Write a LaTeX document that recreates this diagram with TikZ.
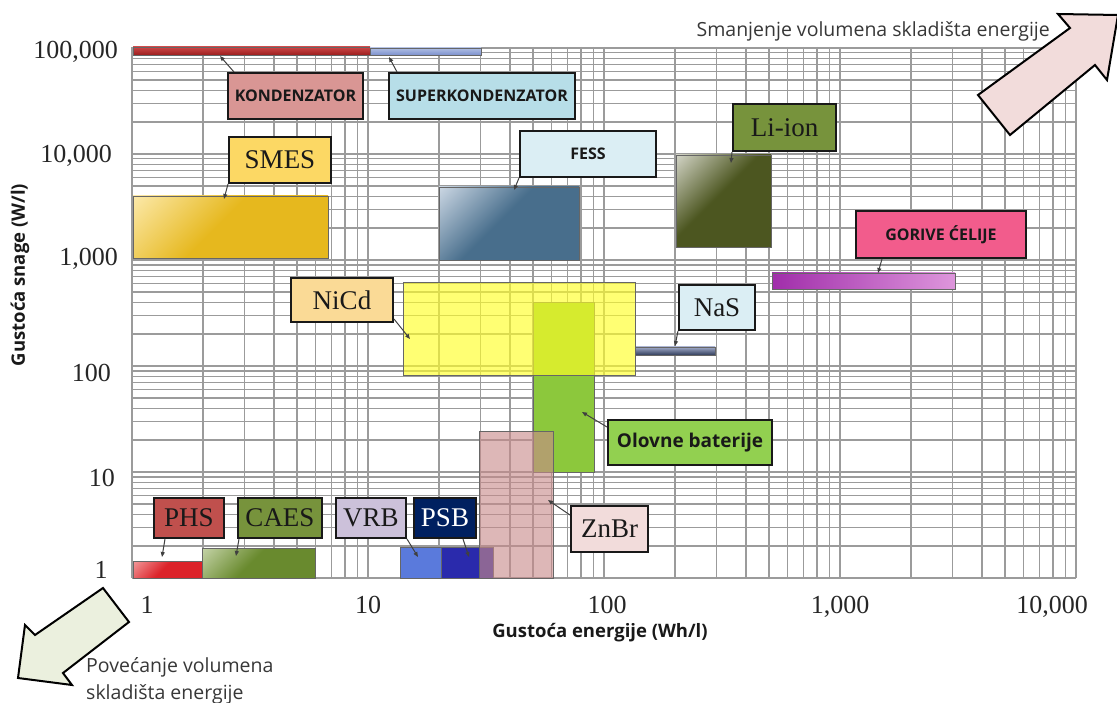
\documentclass[tikz,border=0pt]{standalone}
\usepackage{fontspec}
\setmainfont{Liberation Serif}
\newfontfamily\osans{Open Sans}
\usetikzlibrary{arrows.meta}
\definecolor{gridc}{RGB}{155,155,155}
\definecolor{cKond}{RGB}{217,150,148}
\definecolor{cSuper}{RGB}{183,222,232}
\definecolor{cSmes}{RGB}{252,216,100}
\definecolor{cFess}{RGB}{219,238,244}
\definecolor{cOlive}{RGB}{119,147,60}
\definecolor{cGor}{RGB}{242,92,140}
\definecolor{cNicd}{RGB}{250,218,150}
\definecolor{cLead}{RGB}{146,208,80}
\definecolor{cZn}{RGB}{242,220,219}
\definecolor{cPhs}{RGB}{192,80,77}
\definecolor{cVrb}{RGB}{204,193,218}
\definecolor{cPsb}{RGB}{0,32,96}
\definecolor{arrPink}{RGB}{242,220,219}
\definecolor{arrGreen}{RGB}{235,240,222}
\definecolor{txtgray}{RGB}{55,55,55}
% bar colours
\definecolor{kondT}{RGB}{205,70,70}
\definecolor{kondB}{RGB}{155,30,30}
\definecolor{supT}{RGB}{175,190,228}
\definecolor{supB}{RGB}{125,145,205}
\definecolor{smesL}{RGB}{255,240,190}
\definecolor{smesM}{RGB}{230,184,30}
\definecolor{fessL}{RGB}{222,230,240}
\definecolor{fessM}{RGB}{72,110,140}
\definecolor{liL}{RGB}{230,230,222}
\definecolor{liM}{RGB}{76,86,32}
\definecolor{gorL}{RGB}{160,45,170}
\definecolor{gorR}{RGB}{222,150,220}
\definecolor{nasT}{RGB}{160,170,200}
\definecolor{nasB}{RGB}{50,62,92}
\definecolor{leadM}{RGB}{140,200,60}
\definecolor{nicdM}{RGB}{255,255,40}
\definecolor{phsL}{RGB}{245,170,170}
\definecolor{phsM}{RGB}{220,35,42}
\definecolor{caesL}{RGB}{210,222,185}
\definecolor{caesM}{RGB}{105,138,46}
\definecolor{vrbM}{RGB}{90,122,220}
\definecolor{psbM}{RGB}{42,42,172}
\definecolor{znM}{RGB}{200,138,138}
\colorlet{hlA}{white}
\colorlet{hlB}{black}
\pgfdeclareverticalshading[hlA,hlB]{corner}{100bp}{color(0bp)=(hlB); color(54bp)=(hlB); color(90bp)=(hlA); color(100bp)=(hlA)}
\begin{document}
\begin{tikzpicture}[x=1pt,y=-1pt,
  gridline/.style={draw=gridc, line width=1.3pt},
  bar/.style={draw=black!60, line width=0.8pt},
  hl/.style 2 args={/utils/exec={\colorlet{hlA}{#1}\colorlet{hlB}{#2}}, shade, shading=corner, shading angle=45},
  lab/.style={draw=black!90, line width=2pt, inner sep=0pt, text=black!90},
  serlab/.style={lab, font=\fontsize{27}{27}\selectfont},
  sanlab/.style={lab, font=\osans\bfseries\fontsize{16}{16}\selectfont},
  tick/.style={inner sep=0pt, text depth=0pt, text=black!85, font=\fontsize{26}{26}\selectfont},
  conn/.style={draw=black!75, line width=1pt, -{Triangle[length=5pt,width=4pt]}},
  note/.style={inner sep=0pt, text=txtgray, font=\osans\fontsize{19.5}{20}\selectfont},
  axt/.style={inner sep=0pt, text=black!90, font=\osans\bfseries\fontsize{18.5}{19}\selectfont},
  blockarrow/.style={draw=black, line width=2pt, line join=miter}]
\useasboundingbox (0,0) rectangle (1117,703);
\clip (0,0) rectangle (1117,703);
% grid
\foreach \d in {0,...,3}{\foreach \k in {1,...,9}{
  \pgfmathsetmacro\xx{132+236*(\d+log10(\k))}
  \draw[gridline] (\xx,47) -- (\xx,578);}}
\draw[gridline] (1076,47) -- (1076,578);
\foreach \d in {0,...,4}{\foreach \k in {1,...,9}{
  \pgfmathsetmacro\yy{578-106*(\d+log10(\k))}
  \draw[gridline] (132,\yy) -- (1076,\yy);}}
\draw[gridline] (132,48) -- (1076,48);
% bars
\path[bar, top color=kondT, bottom color=kondB] (133,47) rectangle (370,55);
\path[bar, top color=supT, bottom color=supB] (370,48) rectangle (481,55);
\path[bar, hl={smesL}{smesM}] (133,196) rectangle (328,258);
\path[bar, hl={fessL}{fessM}] (439,187) rectangle (579,260);
\path[bar, hl={liL}{liM}] (676,155) rectangle (771,247);
\path[bar, left color=gorL, right color=gorR] (772,273) rectangle (955,289);
\path[bar, top color=nasT, bottom color=nasB] (635,347) rectangle (715,355);
\path[bar, fill=leadM] (533,302) rectangle (594,472);
\path[bar, fill=nicdM, fill opacity=0.65] (403,282) rectangle (635,375);
\path[bar, hl={phsL}{phsM}] (133,561) rectangle (202,578);
\path[bar, hl={caesL}{caesM}] (202,548) rectangle (315,578);
\path[bar, fill=vrbM] (400,547) rectangle (441,578);
\path[bar, fill=psbM] (441,547) rectangle (493,578);
\path[bar, fill=znM, fill opacity=0.62] (479,431) rectangle (553,578);
% labels
\node[sanlab, fill=cKond, minimum width=135pt, minimum height=46pt] (kond) at (295.5,96) {KONDENZATOR};
\node[sanlab, fill=cSuper, minimum width=186pt, minimum height=46pt] (super) at (482,96) {SUPERKONDENZATOR};
\node[serlab, fill=cSmes, minimum width=102pt, minimum height=46pt] (smes) at (280,160) {SMES};
\node[sanlab, fill=cFess, minimum width=136pt, minimum height=46pt] (fess) at (588,154) {FESS};
\node[serlab, fill=cOlive, minimum width=103pt, minimum height=47pt] (li) at (784.5,127.5) {Li-ion};
\node[sanlab, fill=cGor, minimum width=170pt, minimum height=47pt] (gor) at (941,234.5) {GORIVE ĆELIJE};
\node[serlab, fill=cNicd, minimum width=102pt, minimum height=44pt] (nicd) at (342,300) {NiCd};
\node[serlab, fill=cFess, minimum width=76pt, minimum height=45pt] (nas) at (717,307.5) {NaS};
\node[lab, fill=cLead, minimum width=164pt, minimum height=45pt, font=\osans\bfseries\fontsize{19}{19}\selectfont] (lead) at (690,442.5) {Olovne baterije};
\node[serlab, fill=cZn, minimum width=77pt, minimum height=46pt] (zn) at (609.5,529) {ZnBr};
\node[serlab, fill=cPhs, minimum width=70pt, minimum height=40pt] (phs) at (189,518) {PHS};
\node[serlab, fill=cOlive, minimum width=84pt, minimum height=40pt] (caes) at (280,518) {CAES};
\node[serlab, fill=cVrb, minimum width=70pt, minimum height=40pt] (vrb) at (371,518) {VRB};
\node[serlab, fill=cPsb, minimum width=62pt, minimum height=40pt, text=white] (psb) at (445,518) {PSB};
% connector ends
\coordinate (pKond) at (220,56);
\coordinate (pSuper) at (389,57);
\coordinate (pSmes) at (224,199);
\coordinate (pFess) at (514,190);
\coordinate (pLi) at (731,163);
\coordinate (pGor) at (878,273);
\coordinate (pNicd) at (410,339);
\coordinate (pNas) at (675,346);
\coordinate (pLead) at (582,412);
\coordinate (pZn) at (548,500);
\coordinate (pPhs) at (162,557);
\coordinate (pCaes) at (236,556);
\coordinate (pVrb) at (418,557);
\coordinate (pPsb) at (469,557);
\draw[conn] ([xshift=7pt]kond.north west) -- (pKond);
\draw[conn] ([xshift=9pt]super.north west) -- (pSuper);
\draw[conn] (smes.south west) -- (pSmes);
\draw[conn] (fess.south west) -- (pFess);
\draw[conn] (li.south west) -- (pLi);
\draw[conn] ([xshift=27pt]gor.south west) -- (pGor);
\draw[conn] ([yshift=4pt]nicd.south east) -- (pNicd);
\draw[conn] (nas.south west) -- (pNas);
\draw[conn] ([yshift=-8pt]lead.north west) -- (pLead);
\draw[conn] ([yshift=-10pt]zn.north west) -- (pZn);
\draw[conn] ([xshift=12pt]phs.south west) -- (pPhs);
\draw[conn] ([xshift=2pt]caes.south west) -- (pCaes);
\draw[conn] (vrb.south east) -- (pVrb);
\draw[conn] ([xshift=-14pt]psb.south east) -- (pPsb);
% tick labels
\node[tick, anchor=east] (y5) at (118,50) {100,000};
\node[tick, anchor=east] (y4) at (112,154) {10,000};
\node[tick, anchor=east] (y3) at (118,257) {1,000};
\node[tick, anchor=east] (y2) at (111,373) {100};
\node[tick, anchor=east] (y1) at (115,478) {10};
\node[tick] (y0) at (101,570) {1};
\node[tick] (x0) at (147,605) {1};
\node[tick] (x1) at (368,605) {10};
\node[tick] (x2) at (607,605) {100};
\node[tick] (x3) at (840,605) {1,000};
\node[tick] (x4) at (1052,605) {10,000};
% axis titles
\node[axt] (xt) at (600,633) {Gustoća energije (Wh/l)};
\node[axt, rotate=90] (yt) at (20,275) {Gustoća snage (W/l)};
% block arrows
\draw[blockarrow, fill=arrPink] (978,95) -- (1070,28) -- (1058,14) -- (1118,15) -- (1107,80) -- (1095,65) -- (1010,135) -- cycle;
\draw[blockarrow, fill=arrGreen] (103,588) -- (129,622) -- (63,673) -- (72,685) -- (18,678) -- (25,625) -- (35,635) -- cycle;
% notes
\node[note, anchor=base east] (tr) at (1050,37) {Smanjenje volumena skladišta energije};
\node[note, anchor=base west] (bl1) at (86,672) {Povećanje volumena};
\node[note, anchor=base west] (bl2) at (86,699) {skladišta energije};
\end{tikzpicture}
\end{document}
